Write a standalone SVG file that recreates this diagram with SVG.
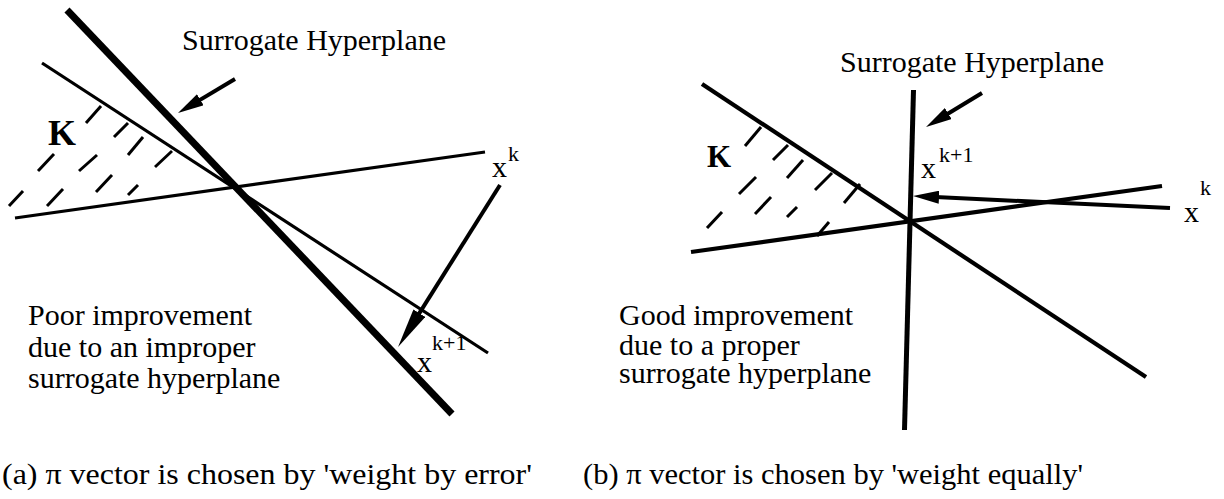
<svg xmlns="http://www.w3.org/2000/svg" width="1224" height="499" viewBox="0 0 1224 499">
  <style>
    .ln { stroke: #000; fill: none; stroke-linecap: butt; }
    .thin { stroke-width: 3.2; }
    .mid { stroke-width: 4.2; }
    .thick { stroke-width: 7; }
    .hatch { stroke: #000; stroke-width: 3; stroke-linecap: butt; }
    .arr { stroke: #000; stroke-width: 4; fill: none; }
    text { font-family: "Liberation Serif", "Times New Roman", serif; fill: #000; }
    .lbl { font-size: 30px; }
    .sup { font-size: 22px; }
    .kb { font-weight: bold; }
    .cap { font-size: 30px; }
  </style>
  <defs>
    <marker id="head-s" markerUnits="userSpaceOnUse" viewBox="0 0 26 13" markerWidth="26" markerHeight="13" refX="14" refY="6.5" orient="auto">
      <path d="M0,0 L26,6.5 L0,13 z" fill="#000"/>
    </marker>
    <marker id="head-l" markerUnits="userSpaceOnUse" viewBox="0 0 40 14" markerWidth="40" markerHeight="14" refX="20" refY="7" orient="auto">
      <path d="M0,0 L40,7 L0,14 z" fill="#000"/>
    </marker>
  </defs>

  <g id="panel-a">
    <g id="a-constraint-1"><line class="ln thin" x1="42" y1="63" x2="488" y2="353"/></g>
    <g id="a-constraint-2"><line class="ln thin" x1="15" y1="218" x2="485" y2="152"/></g>
    <g id="a-surrogate"><line class="ln thick" x1="67" y1="10" x2="452" y2="414"/></g>
    <g id="a-hatch">
      <line class="hatch" x1="86" y1="123" x2="101" y2="106"/>
      <line class="hatch" x1="114" y1="137" x2="128" y2="123"/>
      <line class="hatch" x1="128" y1="155" x2="143" y2="137"/>
      <line class="hatch" x1="155" y1="167" x2="172" y2="151"/>
      <line class="hatch" x1="38" y1="171" x2="54" y2="154"/>
      <line class="hatch" x1="79" y1="171" x2="97" y2="155"/>
      <line class="hatch" x1="96" y1="192" x2="112" y2="175"/>
      <line class="hatch" x1="128" y1="195" x2="138" y2="185"/>
      <line class="hatch" x1="9" y1="206" x2="23" y2="191"/>
      <line class="hatch" x1="47" y1="206" x2="63" y2="189"/>
    </g>
    <g id="a-K"><text class="kb" x="48" y="145" font-size="36">K</text></g>
    <g id="a-title"><text class="lbl" x="182" y="50" font-size="31">Surrogate Hyperplane</text></g>
    <g id="a-xk"><text class="lbl" x="492" y="177">x</text><text class="sup" x="508" y="161">k</text></g>
    <g id="a-xk1"><text class="lbl" x="417" y="372">x</text><text class="sup" x="432" y="350" font-size="23">k+1</text></g>
    <g id="a-note">
      <text class="lbl" x="28" y="325">Poor improvement</text>
      <text class="lbl" x="28" y="357">due to an improper</text>
      <text class="lbl" x="28" y="388">surrogate hyperplane</text>
    </g>
  </g>

  <g id="panel-b">
    <g id="b-constraint-1"><line class="ln mid" x1="702" y1="84" x2="1146" y2="377"/></g>
    <g id="b-constraint-2"><line class="ln mid" x1="691" y1="252" x2="1162" y2="186"/></g>
    <g id="b-surrogate"><line class="ln" stroke-width="5" x1="913.5" y1="90" x2="904.5" y2="430"/></g>
    <g id="b-hatch">
      <line class="hatch" x1="745" y1="146" x2="761" y2="127"/>
      <line class="hatch" x1="773" y1="160" x2="788" y2="145"/>
      <line class="hatch" x1="787" y1="178" x2="803" y2="160"/>
      <line class="hatch" x1="815" y1="190" x2="832" y2="173"/>
      <line class="hatch" x1="844" y1="203" x2="860" y2="184"/>
      <line class="hatch" x1="739" y1="194" x2="756" y2="177"/>
      <line class="hatch" x1="755" y1="214" x2="771" y2="197"/>
      <line class="hatch" x1="787" y1="217" x2="797" y2="207"/>
      <line class="hatch" x1="817" y1="236" x2="829" y2="222"/>
      <line class="hatch" x1="707" y1="228" x2="722" y2="212"/>
    </g>
    <g id="b-K"><text class="kb" x="707" y="167" font-size="31">K</text></g>
    <g id="b-title"><text class="lbl" x="840" y="72" font-size="31">Surrogate Hyperplane</text></g>
    <g id="b-xk1"><text class="lbl" x="921" y="178">x</text><text class="sup" x="939" y="162">k+1</text></g>
    <g id="b-xk"><text class="lbl" x="1184" y="222">x</text><text class="sup" x="1200" y="195">k</text></g>
    <g id="b-note">
      <text class="lbl" x="619" y="325">Good improvement</text>
      <text class="lbl" x="619" y="355">due to a proper</text>
      <text class="lbl" x="619" y="383">surrogate hyperplane</text>
    </g>
  </g>

  <g id="connectors">
    <line class="arr" x1="235" y1="79" x2="188.3" y2="106.9" marker-end="url(#head-s)"/>
    <line class="arr" x1="500" y1="185" x2="408.7" y2="330.1" marker-end="url(#head-l)"/>
    <line class="arr" stroke-width="3.5" x1="1170" y1="208" x2="925" y2="196.6" marker-end="url(#head-s)"/>
    <line class="arr" stroke-width="4.5" x1="982" y1="93" x2="936.3" y2="120.8" marker-end="url(#head-s)"/>
  </g>

  <g id="captions">
    <text class="cap" x="2" y="484" textLength="530" lengthAdjust="spacingAndGlyphs">(a) π vector is chosen by 'weight by error'</text>
    <text class="cap" x="583" y="484" textLength="500" lengthAdjust="spacingAndGlyphs">(b) π vector is chosen by 'weight equally'</text>
  </g>
</svg>
